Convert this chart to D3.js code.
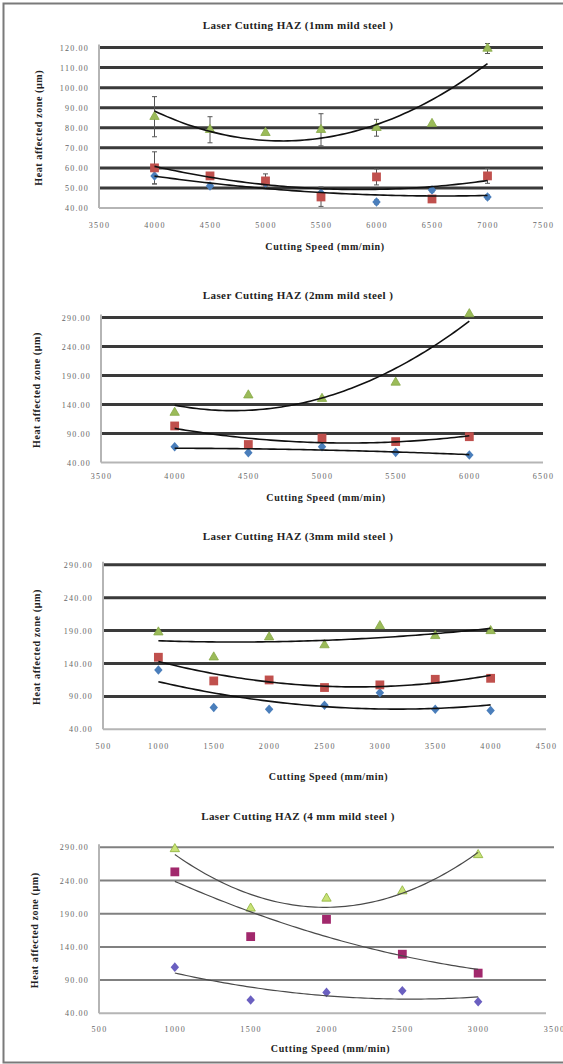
<!DOCTYPE html>
<html>
<head>
<meta charset="utf-8">
<script src="https://cdn.jsdelivr.net/npm/d3@7"></script>
<style>
  html, body { margin: 0; padding: 0; background: #fff; }
  svg { display: block; }
  .tick text { font-family: "Liberation Serif", "Times New Roman", serif; }
</style>
</head>
<body>
<svg id="chart" width="563" height="1064"></svg>
<script>
// ---- Heat affected zone measurements (µm) against cutting speed (mm/min) ----

// 1 mm mild steel
const speeds1 = [4000, 4500, 5000, 5500, 6000, 6500, 7000];
const blue1  = [56, 51, 52.5, 47.5, 43, 49, 45.5];
const red1   = [60, 56, 53.5, 45.5, 55.5, 44.5, 56];
const green1 = [85.5, 79, 77.5, 79, 80, 82, 119.5];
const blueErr1  = [4, 1, 1.5, 3, 1, 1, 1];
const redErr1   = [8, 0, 3.5, 4.7, 4, 1, 3.7];
const greenErr1 = [10, 6.5, 0, 8, 4.2, 0, 2.5];
const xTicks1 = [3500, 4000, 4500, 5000, 5500, 6000, 6500, 7000, 7500];
const yTicks1 = [40, 50, 60, 70, 80, 90, 100, 110, 120];

// 2 mm mild steel
const speeds2 = [4000, 4500, 5000, 5500, 6000];
const blue2  = [67, 57, 67, 57.5, 53];
const red2   = [103, 71, 82, 76, 84.5];
const green2 = [126, 156, 150, 178, 296];
const xTicks2 = [3500, 4000, 4500, 5000, 5500, 6000, 6500];
const yTicks2 = [40, 90, 140, 190, 240, 290];

// 3 mm mild steel
const speeds3 = [1000, 1500, 2000, 2500, 3000, 3500, 4000];
const blue3  = [130, 73, 70.5, 76.5, 95.5, 70.5, 68.5];
const red3   = [149.5, 113.5, 115, 103.5, 107.5, 116, 117.5];
const green3 = [187.5, 149.5, 180, 168, 197, 182, 189.5];
const xTicks3 = [500, 1000, 1500, 2000, 2500, 3000, 3500, 4000, 4500];
const yTicks3 = [40, 90, 140, 190, 240, 290];

// 4 mm mild steel
const speeds4 = [1000, 1500, 2000, 2500, 3000];
const blue4  = [109.5, 60, 71.5, 74, 57.5];
const red4   = [253, 155.5, 181.5, 129, 100.5];
const green4 = [287.5, 198, 213, 224, 278.5];
const xTicks4 = [500, 1000, 1500, 2000, 2500, 3000, 3500];
const yTicks4 = [40, 90, 140, 190, 240, 290];

const titles = [
  "Laser Cutting HAZ (1mm mild steel )",
  "Laser Cutting HAZ (2mm mild steel )",
  "Laser Cutting HAZ (3mm mild steel )",
  "Laser Cutting HAZ (4 mm mild steel )"
];
const yTitle = "Heat affected zone (µm)";
const xTitle = "Cutting Speed (mm/min)";

// ---- Second-order polynomial trendline (least squares) ----
function quadFit(xs, ys) {
  const m = d3.mean(xs), s = 500;
  const t = xs.map(x => (x - m) / s);
  const S = [0, 0, 0, 0, 0], T = [0, 0, 0];
  t.forEach((v, i) => {
    for (let k = 0; k < 5; k++) S[k] += Math.pow(v, k);
    for (let k = 0; k < 3; k++) T[k] += ys[i] * Math.pow(v, k);
  });
  const A = [[S[0], S[1], S[2], T[0]], [S[1], S[2], S[3], T[1]], [S[2], S[3], S[4], T[2]]];
  for (let c = 0; c < 3; c++) {
    for (let r = c + 1; r < 3; r++) {
      const f = A[r][c] / A[c][c];
      for (let k = c; k < 4; k++) A[r][k] -= f * A[c][k];
    }
  }
  const coef = [0, 0, 0];
  for (let r = 2; r >= 0; r--) {
    let v = A[r][3];
    for (let k = r + 1; k < 3; k++) v -= A[r][k] * coef[k];
    coef[r] = v / A[r][r];
  }
  return x => { const u = (x - m) / s; return coef[0] + coef[1] * u + coef[2] * u * u; };
}

const svg = d3.select("#chart");
const serif = "'Liberation Serif', 'Times New Roman', serif";

// outer frame
svg.append("rect")
  .attr("x", 3.5).attr("y", 3.5).attr("width", 600).attr("height", 1059)
  .attr("fill", "none").attr("stroke", "#7a7a7a").attr("stroke-width", 2);

const standard = { blue: "#4a7ebb", red: "#c0504d", green: "#9bbb59", greenStroke: "#86a848" };
const alt = { blue: "#6a5fc0", red: "#a1286c", green: "#c9e277", greenStroke: "#8cb13a" };

const panels = [
  { speeds: speeds1, series: [blue1, red1, green1], errs: [blueErr1, redErr1, greenErr1],
    xTicks: xTicks1, yTicks: yTicks1, title: titles[0],
    left: 99, right: 543, gridEnd: 543, top: 47.5, bottom: 208,
    titleY: 29, xLabY: 231, xTitleY: 250, yTitleX: 39, colors: standard,
    grid: { color: "#3a3a3a", width: 3 }, trend: { color: "#111", width: 1.6 } },
  { speeds: speeds2, series: [blue2, red2, green2], errs: null,
    xTicks: xTicks2, yTicks: yTicks2, title: titles[1],
    left: 101, right: 543, gridEnd: 543, top: 317.5, bottom: 462.5,
    titleY: 299, xLabY: 482, xTitleY: 501, yTitleX: 37, colors: standard,
    grid: { color: "#3a3a3a", width: 3 }, trend: { color: "#111", width: 1.6 } },
  { speeds: speeds3, series: [blue3, red3, green3], errs: null,
    xTicks: xTicks3, yTicks: yTicks3, title: titles[2],
    left: 103, right: 546, gridEnd: 546, top: 564.8, bottom: 729.3,
    titleY: 540, xLabY: 752, xTitleY: 780, yTitleX: 37, colors: standard,
    grid: { color: "#3a3a3a", width: 3 }, trend: { color: "#111", width: 1.6 } },
  { speeds: speeds4, series: [blue4, red4, green4], errs: null,
    xTicks: xTicks4, yTicks: yTicks4, title: titles[3],
    left: 99, right: 554, gridEnd: 546, top: 847.3, bottom: 1013.3,
    titleY: 820, xLabY: 1035, xTitleY: 1052, yTitleX: 35, colors: alt,
    grid: { color: "#808080", width: 2 }, trend: { color: "#4a4a4a", width: 1.2 } }
];

const fmt = d3.format(".2f");

panels.forEach(p => {
  const x = d3.scaleLinear().domain(d3.extent(p.xTicks)).range([p.left, p.right]);
  const y = d3.scaleLinear().domain(d3.extent(p.yTicks)).range([p.bottom, p.top]);
  const g = svg.append("g");
  const topTick = d3.max(p.yTicks);

  // horizontal gridlines
  g.selectAll("line.grid").data(p.yTicks.slice(1)).join("line")
    .attr("class", "grid")
    .attr("x1", p.left).attr("x2", d => d === topTick ? p.right : p.gridEnd)
    .attr("y1", d => y(d)).attr("y2", d => y(d))
    .attr("stroke", p.grid.color).attr("stroke-width", p.grid.width);

  // axis lines
  g.append("line").attr("x1", p.left).attr("x2", p.gridEnd)
    .attr("y1", p.bottom).attr("y2", p.bottom)
    .attr("stroke", "#b5b5b5").attr("stroke-width", 2);
  g.append("line").attr("x1", p.left).attr("x2", p.left)
    .attr("y1", p.top - 3).attr("y2", p.bottom)
    .attr("stroke", "#b5b5b5").attr("stroke-width", 2);

  // y axis tick labels
  const ya = g.append("g").attr("transform", `translate(${p.left},0)`)
    .call(d3.axisLeft(y).tickValues(p.yTicks).tickSize(0).tickPadding(10).tickFormat(fmt));
  ya.select(".domain").remove();
  ya.selectAll("text").attr("font-size", 8).attr("fill", "#666")
    .attr("letter-spacing", 1.2).attr("font-family", serif);

  // x axis tick labels
  const xa = g.append("g").attr("transform", `translate(0,${p.xLabY - 9})`)
    .call(d3.axisBottom(x).tickValues(p.xTicks).tickSize(0).tickPadding(0).tickFormat(d3.format("d")));
  xa.select(".domain").remove();
  xa.selectAll("text").attr("font-size", 8).attr("fill", "#666")
    .attr("letter-spacing", 1.4).attr("font-family", serif);

  // titles
  g.append("text").attr("x", 298).attr("y", p.titleY).attr("text-anchor", "middle")
    .attr("font-family", serif).attr("font-weight", "bold").attr("font-size", 11)
    .attr("letter-spacing", 0.4).attr("fill", "#222").text(p.title);
  g.append("text").attr("x", (p.left + p.right) / 2 + 4).attr("y", p.xTitleY)
    .attr("text-anchor", "middle").attr("font-family", serif).attr("font-weight", "bold")
    .attr("font-size", 10).attr("letter-spacing", 0.6).attr("fill", "#222").text(xTitle);
  g.append("text")
    .attr("transform", `translate(${p.yTitleX + 3},${(p.top + p.bottom) / 2}) rotate(-90)`)
    .attr("text-anchor", "middle").attr("font-family", serif).attr("font-weight", "bold")
    .attr("font-size", 10).attr("letter-spacing", 0.6).attr("fill", "#222").text(yTitle);

  // error bars
  if (p.errs) {
    p.series.forEach((vals, si) => {
      const e = p.errs[si];
      vals.forEach((v, i) => {
        if (!e[i]) return;
        const cx = x(p.speeds[i]);
        const eg = g.append("g").attr("stroke", "#555").attr("stroke-width", 1);
        eg.append("line").attr("x1", cx).attr("x2", cx).attr("y1", y(v + e[i])).attr("y2", y(v - e[i]));
        eg.append("line").attr("x1", cx - 2.5).attr("x2", cx + 2.5).attr("y1", y(v + e[i])).attr("y2", y(v + e[i]));
        eg.append("line").attr("x1", cx - 2.5).attr("x2", cx + 2.5).attr("y1", y(v - e[i])).attr("y2", y(v - e[i]));
      });
    });
  }

  // markers
  const [b, r, gr] = p.series;
  const pts = arr => arr.map((v, i) => [x(p.speeds[i]), y(v)]);
  g.selectAll("path.diamond").data(pts(b)).join("path").attr("class", "diamond")
    .attr("d", d3.symbol(d3.symbolDiamond2, 50))
    .attr("transform", d => `translate(${d[0]},${d[1]}) scale(0.95,1.08)`)
    .attr("fill", p.colors.blue);
  g.selectAll("rect.square").data(pts(r)).join("rect").attr("class", "square")
    .attr("x", d => d[0] - 4.4).attr("y", d => d[1] - 4.4)
    .attr("width", 8.8).attr("height", 8.8)
    .attr("fill", p.colors.red);
  g.selectAll("path.tri").data(pts(gr)).join("path").attr("class", "tri")
    .attr("d", d3.symbol(d3.symbolTriangle, 38))
    .attr("transform", d => `translate(${d[0]},${d[1]})`)
    .attr("fill", p.colors.green).attr("stroke", p.colors.greenStroke).attr("stroke-width", 0.8);

  // polynomial trendlines
  const line = d3.line().x(d => x(d[0])).y(d => y(d[1])).curve(d3.curveLinear);
  p.series.forEach(vals => {
    const f = quadFit(p.speeds, vals);
    const [x0, x1] = d3.extent(p.speeds);
    const sample = d3.range(0, 81).map(k => { const sx = x0 + (x1 - x0) * k / 80; return [sx, f(sx)]; });
    g.append("path").attr("d", line(sample)).attr("fill", "none")
      .attr("stroke", p.trend.color).attr("stroke-width", p.trend.width);
  });
});
</script>
</body>
</html>
